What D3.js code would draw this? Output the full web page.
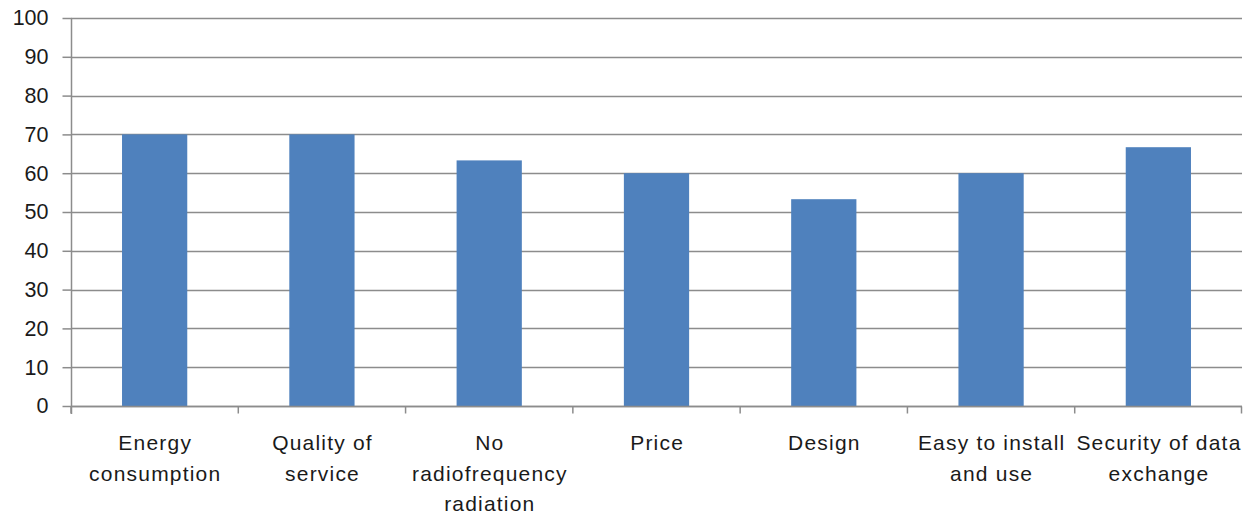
<!DOCTYPE html>
<html>
<head>
<meta charset="utf-8">
<script src="https://cdn.jsdelivr.net/npm/d3@7"></script>
<style>
  html, body { margin: 0; padding: 0; background: #fff; }
  svg { display: block; }
  text { font-family: "Liberation Sans", Arial, sans-serif; fill: #1a1a1a; }
</style>
</head>
<body>
<svg id="chart" width="1243" height="515"></svg>
<script>
// Survey attributes and their scores
const categories = [
  ["Energy", "consumption"],
  ["Quality of", "service"],
  ["No", "radiofrequency", "radiation"],
  ["Price"],
  ["Design"],
  ["Easy to install", "and use"],
  ["Security of data", "exchange"]
];
const values = [70, 70, 63.3, 60, 53.3, 60, 66.7];
const yTicks = [0, 10, 20, 30, 40, 50, 60, 70, 80, 90, 100];

const W = 1243, H = 515;
const margin = { left: 71, right: 1, top: 18, bottom: 109 };
const svg = d3.select("#chart");

const keys = categories.map((c, i) => i);
const x = d3.scaleBand()
  .domain(keys)
  .range([margin.left, W - margin.right])
  .paddingInner(0).paddingOuter(0);
const y = d3.scaleLinear()
  .domain([0, 100])
  .range([H - margin.bottom, margin.top]);

const gridColor = "#8c8c8c";

// horizontal gridlines
svg.append("g")
  .selectAll("line")
  .data(yTicks)
  .join("line")
  .attr("x1", margin.left)
  .attr("x2", W - margin.right)
  .attr("y1", d => Math.round(y(d)) + 0.5)
  .attr("y2", d => Math.round(y(d)) + 0.5)
  .attr("stroke", gridColor)
  .attr("stroke-width", 1.5);

// bars
const barW = x.bandwidth() * 0.39;
svg.append("g")
  .selectAll("rect")
  .data(values)
  .join("rect")
  .attr("x", (d, i) => x(i) + (x.bandwidth() - barW) / 2)
  .attr("width", barW)
  .attr("y", d => y(d))
  .attr("height", d => y(0) - y(d))
  .attr("fill", "#4f81bd");

// y axis
const yAxis = svg.append("g")
  .attr("transform", `translate(${margin.left + 0.5},0)`)
  .call(d3.axisLeft(y).tickValues(yTicks).tickSize(9).tickPadding(14).tickFormat(d3.format("d")));
yAxis.select(".domain").attr("stroke", gridColor).attr("stroke-width", 1.5)
  .attr("d", `M0,${y(100)}V${y(0) + 8}`);
yAxis.selectAll(".tick line").attr("stroke", gridColor).attr("stroke-width", 1.5);
yAxis.selectAll(".tick text")
  .style("font-size", "21.5px")
  .style("font-family", "'Liberation Sans', Arial, sans-serif")
  .attr("fill", "#1a1a1a");

// x axis: baseline and ticks on category boundaries
const xg = svg.append("g");
const y0 = Math.round(y(0)) + 0.5;
xg.append("line")
  .attr("x1", margin.left).attr("x2", W - margin.right)
  .attr("y1", y0).attr("y2", y0)
  .attr("stroke", gridColor).attr("stroke-width", 1.5);
const bounds = keys.map(k => x(k)).concat([x(keys[keys.length - 1]) + x.bandwidth()]);
xg.selectAll("line.tk")
  .data(bounds)
  .join("line")
  .attr("class", "tk")
  .attr("x1", d => Math.min(d, W - 1.5)).attr("x2", d => Math.min(d, W - 1.5))
  .attr("y1", y0).attr("y2", y0 + 7)
  .attr("stroke", gridColor).attr("stroke-width", 1.5);

// category labels
const lbl = xg.selectAll("text.cat")
  .data(categories)
  .join("text")
  .attr("class", "cat")
  .attr("text-anchor", "middle")
  .style("font-size", "21px")
  .style("letter-spacing", "1.2px")
  .attr("transform", (d, i) => `translate(${x(i) + x.bandwidth() / 2 + 0.6},${y(0) + 44})`);
lbl.selectAll("tspan")
  .data(d => d)
  .join("tspan")
  .attr("x", 0)
  .attr("y", (d, j) => j * 30.5)
  .text(d => d);
</script>
</body>
</html>
